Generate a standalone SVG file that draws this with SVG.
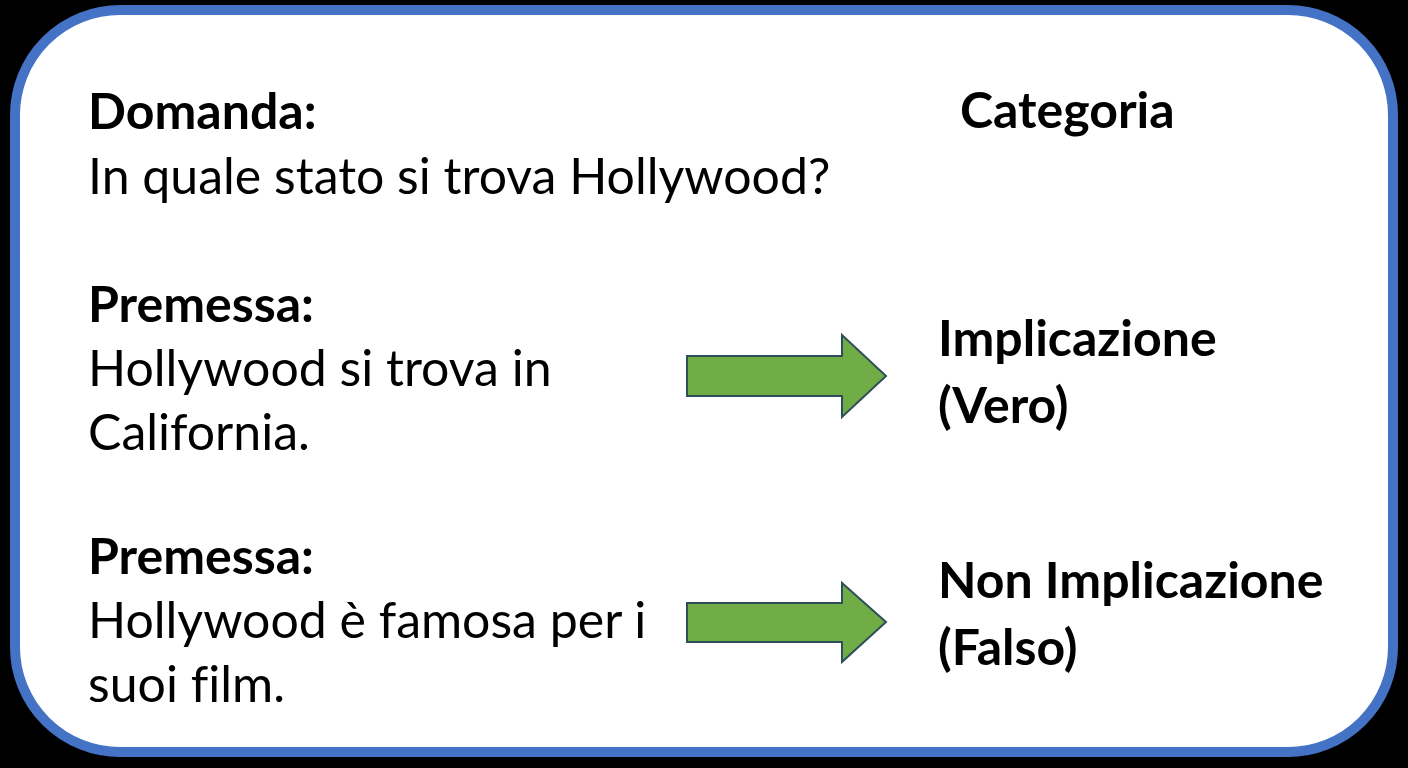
<svg xmlns="http://www.w3.org/2000/svg" width="1408" height="768" viewBox="0 0 1408 768">
<style>
.t{font-family:Lato,"Liberation Sans",sans-serif;font-size:50px;fill:#000;font-variant-ligatures:none}
.b{font-weight:bold}
.arrow{fill:#70AD47;stroke:#2E4F5A;stroke-width:2}
</style>
<rect x="0" y="0" width="1408" height="768" fill="#000"/>
<g id="frame">
<rect x="15" y="10" width="1378" height="742" rx="105" ry="105" fill="#fff" stroke="#4472C4" stroke-width="10"/>
</g>
<g id="domanda">
<text class="t b" x="88" y="129">Domanda:</text>
<text class="t" x="88" y="194">In quale stato si trova Hollywood?</text>
</g>
<g id="categoria">
<text class="t b" x="960" y="128">Categoria</text>
</g>
<g id="premessa1">
<text class="t b" x="88" y="322">Premessa:</text>
<text class="t" x="88" y="386">Hollywood si trova in</text>
<text class="t" x="88" y="450">California.</text>
</g>
<g id="premessa2">
<text class="t b" x="88" y="574">Premessa:</text>
<text class="t" x="88" y="638">Hollywood è famosa per i</text>
<text class="t" x="88" y="702">suoi film.</text>
</g>
<g id="cat1">
<text class="t b" x="938" y="356">Implicazione</text>
<text class="t b" x="938" y="423">(Vero)</text>
</g>
<g id="cat2">
<text class="t b" x="938" y="598">Non Implicazione</text>
<text class="t b" x="938" y="665">(Falso)</text>
</g>
<g id="connectors">
<polygon class="arrow" points="687,356 842,356 842,335 886,376 842,417 842,396 687,396"/>
<polygon class="arrow" points="687,603 842,603 842,583 886,622 842,662 842,642 687,642"/>
</g>
</svg>
